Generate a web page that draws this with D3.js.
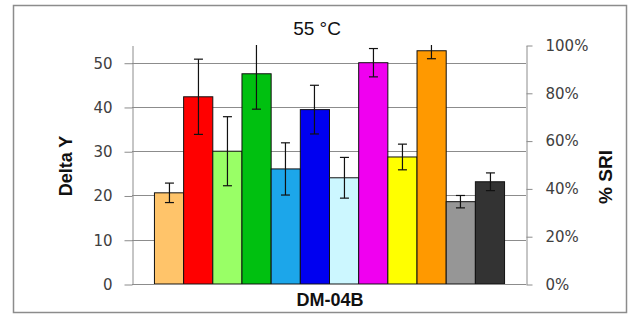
<!DOCTYPE html>
<html>
<head>
<meta charset="utf-8">
<script src="https://cdn.jsdelivr.net/npm/d3@7"></script>
<style>
    html, body { margin: 0; padding: 0; background: #fff; }
    svg { display: block; }
    .tick text { font-family: "DejaVu Sans", Verdana, sans-serif; font-size: 15px; fill: #404040; }
</style>
</head>
<body>
<div id="chart"></div>
<script>
// Delta Y per sample at 55 °C, one group (DM-04B), twelve coloured bars
// with +/- error bars. Right axis is % SRI, drawn as a second scale only.

const category = 'DM-04B';
const barColors = ['#ffc46a', '#ff0000', '#99ff66', '#00c010', '#1ca6ea', '#0000f0',
    '#ccf7ff', '#f000f0', '#ffff00', '#ff9900', '#969696', '#333333'];
const deltaY = [20.6, 42.3, 30.0, 47.5, 26.0, 39.4, 24.0, 50.0, 28.7, 52.7, 18.6, 23.1];
const deltaYErr = [2.2, 8.5, 7.8, 8.0, 5.9, 5.5, 4.6, 3.2, 2.9, 1.8, 1.4, 2.0];
const leftTicks = [0, 10, 20, 30, 40, 50];
const rightTicks = [0, 0.2, 0.4, 0.6, 0.8, 1.0];

const W = 634, H = 316;
const plot = { left: 132, right: 526, top: 45, bottom: 284 };

const svg = d3.select('#chart').append('svg').attr('width', W).attr('height', H);

// chart frame
svg.append('rect')
    .attr('x', 13.5).attr('y', 5.5).attr('width', 613).attr('height', 307)
    .attr('fill', '#fff').attr('stroke', '#8c8c8c').attr('stroke-width', 1.5);

const y = d3.scaleLinear().domain([0, 54]).range([plot.bottom, plot.top]);
const yRight = d3.scaleLinear().domain([0, 1]).range([plot.bottom, plot.top]);

const x0 = d3.scaleBand().domain([category]).range([plot.left, plot.right]).paddingOuter(0.0627);
const x1 = d3.scaleBand().domain(d3.range(deltaY.length)).range([0, x0.bandwidth()]);

// gridlines from the left axis
svg.append('g').selectAll('line')
    .data(leftTicks.filter((t) => t > 0))
    .join('line')
    .attr('x1', plot.left).attr('x2', plot.right)
    .attr('y1', (d) => Math.round(y(d)) + 0.5).attr('y2', (d) => Math.round(y(d)) + 0.5)
    .attr('stroke', '#8c8c8c').attr('stroke-width', 1);

svg.append('clipPath').attr('id', 'plot-clip')
    .append('rect')
    .attr('x', plot.left).attr('y', plot.top)
    .attr('width', plot.right - plot.left).attr('height', plot.bottom - plot.top);

const g = svg.append('g').attr('transform', `translate(${x0(category)},0)`);

g.selectAll('rect.bar')
    .data(deltaY)
    .join('rect')
    .attr('class', 'bar')
    .attr('x', (_, i) => x1(i) + 0.5)
    .attr('y', (d) => y(d))
    .attr('width', x1.bandwidth())
    .attr('height', (d) => y(0) - y(d))
    .attr('fill', (_, i) => barColors[i])
    .attr('stroke', '#111').attr('stroke-width', 1);

// error bars, clipped at the top of the plot like the original
const errG = svg.append('g').attr('clip-path', 'url(#plot-clip)')
    .append('g').attr('transform', `translate(${x0(category)},0)`);
const cap = 4.5;
deltaY.forEach((v, i) => {
    const cx = Math.round(x1(i) + x1.bandwidth() / 2) + 0.5;
    const lo = y(v - deltaYErr[i]), hi = y(v + deltaYErr[i]);
    const e = errG.append('g').attr('stroke', '#111').attr('stroke-width', 1.2);
    e.append('line').attr('x1', cx).attr('x2', cx).attr('y1', lo).attr('y2', hi);
    e.append('line').attr('x1', cx - cap).attr('x2', cx + cap).attr('y1', lo).attr('y2', lo);
    e.append('line').attr('x1', cx - cap).attr('x2', cx + cap).attr('y1', hi).attr('y2', hi);
});

// left axis
const axL = svg.append('g').attr('transform', `translate(${plot.left + 0.5},0.5)`)
    .call(d3.axisLeft(y).tickValues(leftTicks).tickSize(8).tickSizeOuter(0).tickPadding(12));
// right axis
const axR = svg.append('g').attr('transform', `translate(${plot.right + 0.5},0.5)`)
    .call(d3.axisRight(yRight).tickValues(rightTicks).tickFormat(d3.format('.0%'))
        .tickSize(6).tickSizeOuter(0).tickPadding(13));
[axL, axR].forEach((ax) => {
    ax.select('.domain').attr('stroke', '#8c8c8c');
    ax.selectAll('.tick line').attr('stroke', '#8c8c8c');
});

// baseline
svg.append('line')
    .attr('x1', plot.left).attr('x2', plot.right)
    .attr('y1', y(0) + 0.5).attr('y2', y(0) + 0.5)
    .attr('stroke', '#8c8c8c');

// titles
svg.append('text')
    .attr('x', 317).attr('y', 35)
    .attr('text-anchor', 'middle')
    .attr('font-family', '"Liberation Sans", Arial, sans-serif')
    .attr('font-size', 19).attr('fill', '#111')
    .text('55 °C');

svg.append('text')
    .attr('x', 330).attr('y', 306)
    .attr('text-anchor', 'middle')
    .attr('font-family', '"Liberation Sans", Arial, sans-serif')
    .attr('font-size', 18).attr('font-weight', 'bold').attr('fill', '#111')
    .text(category);

svg.append('text')
    .attr('transform', 'translate(72,166) rotate(-90)')
    .attr('text-anchor', 'middle')
    .attr('font-family', '"Liberation Sans", Arial, sans-serif')
    .attr('font-size', 18).attr('font-weight', 'bold').attr('fill', '#111')
    .text('Delta Y');

svg.append('text')
    .attr('transform', 'translate(612,177) rotate(-90)')
    .attr('text-anchor', 'middle')
    .attr('font-family', '"Liberation Sans", Arial, sans-serif')
    .attr('font-size', 19).attr('font-weight', 'bold').attr('fill', '#111')
    .text('% SRI');
</script>
</body>
</html>
